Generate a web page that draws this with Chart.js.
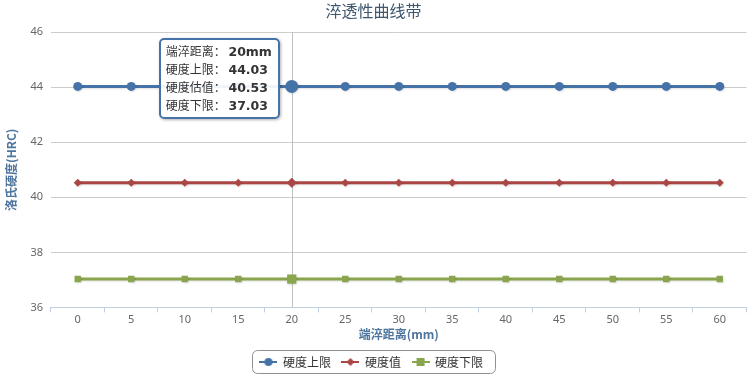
<!DOCTYPE html>
<html><head><meta charset="utf-8">
<script src="https://cdn.jsdelivr.net/npm/chart.js@4"></script>
<style>
html,body{margin:0;padding:0;background:#fff;overflow:hidden}
#wrap{position:relative;width:749px;height:378px;overflow:hidden}
#tt{position:absolute;opacity:0;background:rgba(255,255,255,0.92);border:2px solid #4572A7;border-radius:5px;
box-shadow:1px 1px 3px rgba(0,0,0,0.3);padding:2px 6px 3px 5px;font:12px "Noto Sans CJK SC",sans-serif;color:#333;line-height:17px;white-space:nowrap;pointer-events:none}
#tt b{font-family:"DejaVu Sans",sans-serif;font-weight:bold;font-size:12.5px}
</style></head>
<body><div id="wrap"><canvas id="c" width="753" height="378"></canvas><div id="tt"></div></div>
<script>
const categories = ['0','5','10','15','20','25','30','35','40','45','50','55','60'];
const upper    = [44.03,44.03,44.03,44.03,44.03,44.03,44.03,44.03,44.03,44.03,44.03,44.03,44.03];
const estimate = [40.53,40.53,40.53,40.53,40.53,40.53,40.53,40.53,40.53,40.53,40.53,40.53,40.53];
const lower    = [37.03,37.03,37.03,37.03,37.03,37.03,37.03,37.03,37.03,37.03,37.03,37.03,37.03];
const yTicks = [36,38,40,42,44,46];
const seriesNames = ['硬度上限','硬度值','硬度下限'];
const tooltipLabels = ['端淬距离','硬度上限','硬度估值','硬度下限'];
const activeIndex = 4;

const colors = ['#4572A7','#AA4643','#89A54E'];
const styles = ['circle','rectRot','rect'];
const CJK = '"Noto Sans CJK SC", sans-serif';

function legendSymbol(color, style){
  const cv = document.createElement('canvas'); cv.width = 18; cv.height = 10;
  const g = cv.getContext('2d');
  g.strokeStyle = color; g.lineWidth = 2; g.beginPath(); g.moveTo(0,5); g.lineTo(18,5); g.stroke();
  g.fillStyle = color; g.beginPath();
  if (style==='circle'){ g.arc(9,5,4,0,Math.PI*2); }
  else if (style==='rectRot'){ g.moveTo(9,1); g.lineTo(13,5); g.lineTo(9,9); g.lineTo(5,5); g.closePath(); }
  else { g.rect(5,1,8,8); }
  g.fill();
  return cv;
}
const symbols = colors.map((c,i)=>legendSymbol(c, styles[i]));

const shiftBlocks = {
  id:'shiftBlocks',
  afterLayout(chart){
    const lg = chart.legend; lg.left -= 7; lg.right -= 7;
    const tt = chart.titleBlock; if (tt){ tt.left -= 5; tt.right -= 5; }
  }
};
const crosshair = {
  id:'crosshair',
  beforeDatasetsDraw(chart){
    const x = chart.scales.x.getPixelForValue(activeIndex);
    const a = chart.chartArea, ctx = chart.ctx;
    ctx.save(); ctx.strokeStyle = '#C0C0C0'; ctx.lineWidth = 1;
    ctx.beginPath(); ctx.moveTo(Math.round(x)+0.5, a.top); ctx.lineTo(Math.round(x)+0.5, a.bottom); ctx.stroke();
    ctx.restore();
    ctx.save();
    ctx.shadowColor = 'rgba(0,0,0,0.12)'; ctx.shadowOffsetX = 1; ctx.shadowOffsetY = 1; ctx.shadowBlur = 2;
  },
  afterDatasetsDraw(chart){ chart.ctx.restore(); }
};
const legendBox = {
  id:'legendBox',
  afterDraw(chart){
    const hb = chart.legend.legendHitBoxes; if(!hb||!hb.length) return;
    let l = Math.min(...hb.map(h=>h.left)), r = Math.max(...hb.map(h=>h.left+h.width));
    const t = Math.min(...hb.map(h=>h.top)), b = Math.max(...hb.map(h=>h.top+h.height));
    const ctx = chart.ctx; ctx.save(); ctx.strokeStyle = '#909090'; ctx.lineWidth = 1;
    ctx.beginPath(); ctx.roundRect(Math.round(l-8)+0.5, Math.round(t-6)+0.5, Math.round(r-l+20), Math.round(b-t+11), 5); ctx.stroke();
    ctx.restore();
  }
};

function external(context){
  const {chart, tooltip} = context; const el = document.getElementById('tt');
  if (tooltip.opacity === 0 || !tooltip.dataPoints) { el.style.opacity = 0; return; }
  const i = tooltip.dataPoints[0].dataIndex;
  const vals = [categories[i]+'mm', upper[i].toFixed(2), estimate[i].toFixed(2), lower[i].toFixed(2)];
  el.innerHTML = tooltipLabels.map((t,k)=>t+'：&nbsp;<b>'+vals[k]+'</b>').join('<br>');
  el.style.left = (tooltip.caretX - 133) + 'px';
  el.style.top = (chart.chartArea.top + 6) + 'px';
  el.style.opacity = 1;
}

const data = [upper, estimate, lower];
const chart = new Chart(document.getElementById('c'), {
  type:'line',
  data:{
    labels: categories,
    datasets: seriesNames.map((n,i)=>({
      label:n, data:data[i], borderColor:colors[i], backgroundColor:colors[i],
      borderWidth:3, pointStyle:styles[i], pointRadius: i===1?4:4.5, pointHoverRadius: i===1?5:6.5,
      pointBorderWidth:0, pointHoverBorderWidth:0, pointBackgroundColor:colors[i], pointHoverBackgroundColor:colors[i],
      tension:0, fill:false
    }))
  },
  options:{
    responsive:false, animation:false, devicePixelRatio:1,
    interaction:{mode:'index', intersect:false},
    events:[],
    layout:{padding:{left:4,right:0,top:0,bottom:0}},
    plugins:{
      title:{display:true, text:'淬透性曲线带', color:'#3E576F', font:{family:CJK, size:16, weight:'normal'}, padding:{top:1,bottom:12}},
      legend:{position:'bottom', labels:{
        font:{family:CJK,size:12}, color:'#333', usePointStyle:true, pointStyleWidth:17, padding:11,
        generateLabels(ch){ return ch.data.datasets.map((d,i)=>({text:d.label, pointStyle:symbols[i], fillStyle:colors[i], strokeStyle:colors[i], lineWidth:0, datasetIndex:i, hidden:false, fontColor:'#333'})); }
      }},
      tooltip:{enabled:false, external}
    },
    scales:{
      x:{
        offset:true,
        grid:{drawOnChartArea:false, offset:true, tickLength:5, color:'#C0D0E0'},
        border:{color:'#C0D0E0'},
        ticks:{color:'#666', font:{family:'"Noto Sans", sans-serif', size:11}, padding:1, maxRotation:0},
        title:{display:true, text:'端淬距离(mm)', color:'#4D759E', font:{family:CJK,size:12,weight:'bold'}, padding:{top:0,bottom:3}}
      },
      y:{
        min:36, max:46,
        afterBuildTicks(ax){ ax.ticks = yTicks.map(v=>({value:v})); },
        grid:{color:'#CCCCCC', drawTicks:false},
        border:{display:false},
        ticks:{color:'#666', font:{family:'"Noto Sans", sans-serif', size:11}, padding:8},
        title:{display:true, text:'洛氏硬度(HRC)', color:'#4D759E', font:{family:CJK,size:12,weight:'bold'}, padding:{top:0,bottom:4}}
      }
    }
  },
  plugins:[shiftBlocks, crosshair, legendBox]
});
const act = seriesNames.map((n,i)=>({datasetIndex:i, index:activeIndex}));
chart.setActiveElements(act);
chart.tooltip.setActiveElements(act, {x:0,y:0});
chart.update();
</script>
</body></html>
